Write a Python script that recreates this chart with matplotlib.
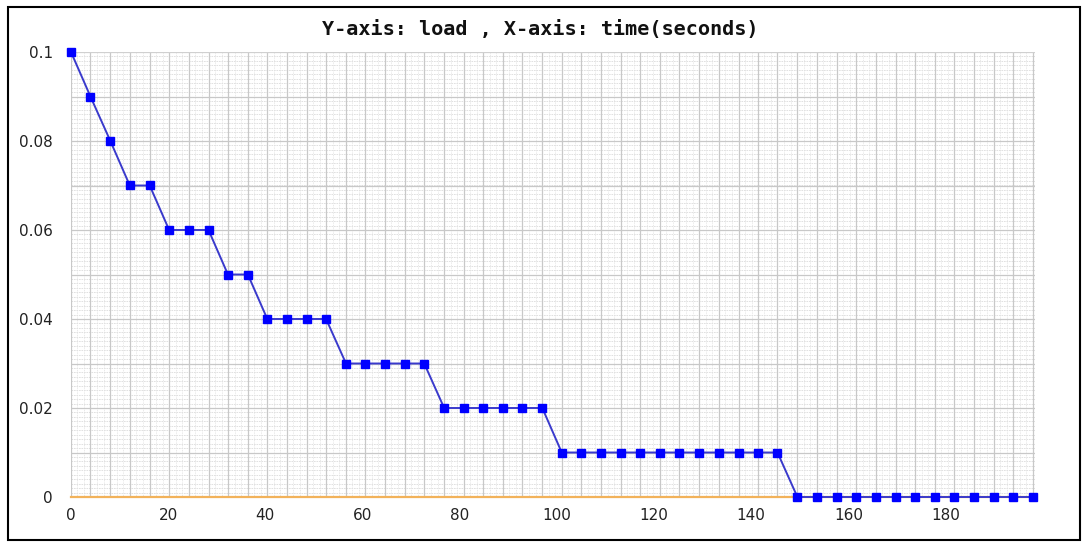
import numpy as np
import matplotlib
matplotlib.use('Agg')
import matplotlib.pyplot as plt
from matplotlib.patches import Rectangle

# data (time in seconds, load)
time_s = [0, 4.0, 8.1, 12.1, 16.2, 20.2, 24.2, 28.3, 32.3, 36.4,
          40.4, 44.4, 48.5, 52.5, 56.6, 60.6, 64.6, 68.7, 72.7, 76.8,
          80.8, 84.8, 88.9, 92.9, 97.0, 101.0, 105.0, 109.1, 113.1, 117.2,
          121.2, 125.2, 129.3, 133.3, 137.4, 141.4, 145.4, 149.5, 153.5, 157.6,
          161.6, 165.6, 169.7, 173.7, 177.8, 181.8, 185.8, 189.9, 193.9, 198.0]
load = [0.10, 0.09, 0.08, 0.07, 0.07, 0.06, 0.06, 0.06, 0.05, 0.05,
        0.04, 0.04, 0.04, 0.04, 0.03, 0.03, 0.03, 0.03, 0.03, 0.02,
        0.02, 0.02, 0.02, 0.02, 0.02, 0.01, 0.01, 0.01, 0.01, 0.01,
        0.01, 0.01, 0.01, 0.01, 0.01, 0.01, 0.01, 0.00, 0.00, 0.00,
        0.00, 0.00, 0.00, 0.00, 0.00, 0.00, 0.00, 0.00, 0.00, 0.00]

x_ticks = [0, 20, 40, 60, 80, 100, 120, 140, 160, 180]
y_ticks = [0, 0.02, 0.04, 0.06, 0.08, 0.1]
y_labels = ['0', '0.02', '0.04', '0.06', '0.08', '0.1']
title = 'Y-axis: load , X-axis: time(seconds)'

W, H = 1084, 542
fig = plt.figure(figsize=(W / 100, H / 100), dpi=100)
ax = fig.add_axes([71 / W, 1 - 497 / H, (1035 - 71) / W, (497 - 52) / H])
xmax = 198.4
ax.set_xlim(0, xmax)
ax.set_ylim(0, 0.1)

# fine dotted background texture
for y in np.arange(0.001, 0.1, 0.001):
    ax.axhline(y, color='#dcdcdc', lw=0.6, ls=(0, (2, 1)), zorder=0)
for i in range(len(time_s) - 1):
    for f in (0.33, 0.67):
        xm = time_s[i] + f * (time_s[i + 1] - time_s[i])
        ax.axvline(xm, color='#e2e2e2', lw=0.6, ls=(0, (1, 1)), zorder=0)

# main grid: vertical at every sample, horizontal every 0.01
for t in time_s:
    ax.axvline(t, color='#c8c8c8', lw=0.9, zorder=1)
for y in np.arange(0.01, 0.1, 0.01):
    ax.axhline(y, color='#c8c8c8', lw=0.9, zorder=1)
ax.axhline(0.1, color='#d0d0d0', lw=0.9, zorder=1)

ax.axhline(0, color='#f2b25a', lw=1.6, zorder=2, clip_on=False)

ax.plot(time_s, load, color='#3a3acc', lw=1.4, marker='s', markersize=6,
        markerfacecolor='#0000ff', markeredgecolor='#0000ff', zorder=3, clip_on=False)

for s in ax.spines.values():
    s.set_visible(False)
ax.set_xticks(x_ticks)
ax.set_xticklabels([str(v) for v in x_ticks])
ax.set_yticks(y_ticks)
ax.set_yticklabels(y_labels)
ax.tick_params(length=0, labelsize=11, labelcolor='#222222')
ax.tick_params(axis='x', pad=8)
ax.tick_params(axis='y', pad=13)

fig.text(540 / W, 1 - 30 / H, title, ha='center', va='center',
         family='DejaVu Sans Mono', fontweight='bold', fontsize=14.5, color='#111111')

fig.patches.append(Rectangle((8 / W, 1 - 540 / H), (1080 - 8) / W, (540 - 7) / H,
                             transform=fig.transFigure, fill=False,
                             edgecolor='black', lw=1.5))

fig.savefig('out.png', dpi=100)
